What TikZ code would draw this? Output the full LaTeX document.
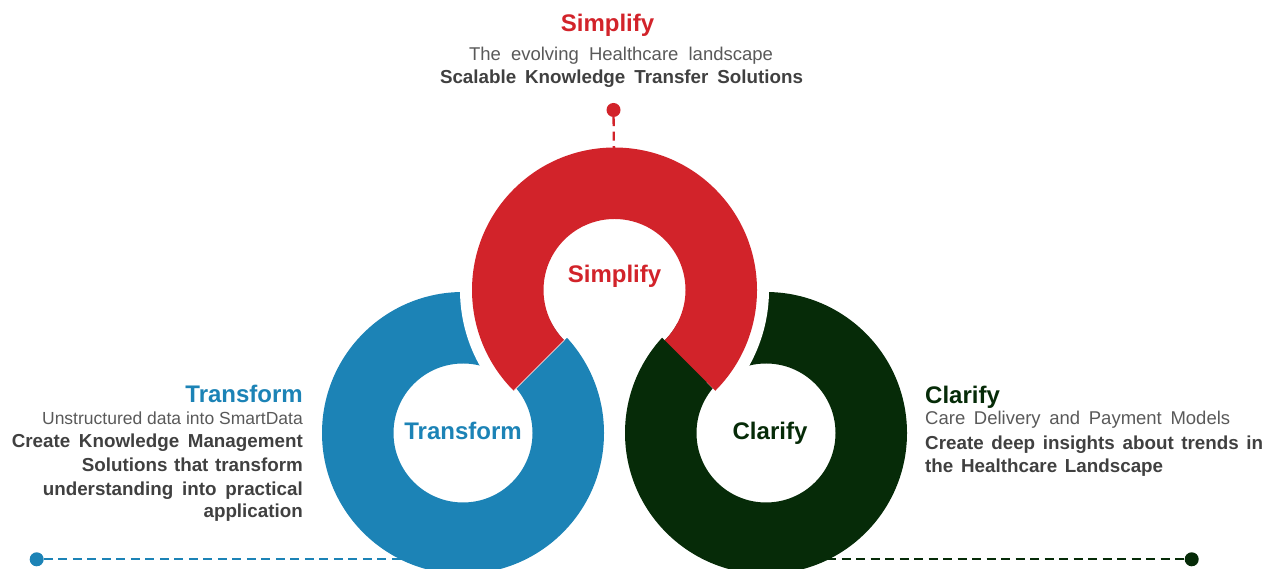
\documentclass[tikz,border=0pt]{standalone}
\usepackage{fontspec}
\setmainfont{Liberation Sans}
\definecolor{cred}{HTML}{D2232A}
\definecolor{cblue}{HTML}{1C83B6}
\definecolor{cgreen}{HTML}{062B08}
\definecolor{cgray}{HTML}{595959}
\definecolor{cdark}{HTML}{404040}
\newcommand{\fitline}[2]{\makebox[#1][s]{#2}}
\tikzset{
  dotnode/.style={circle, inner sep=0pt, minimum size=14pt},
  dashline/.style={line width=2.3pt, dash pattern=on 9pt off 5.5pt},
  head/.style={inner sep=0pt, font=\fontsize{24}{28}\selectfont\bfseries},
  body/.style={inner sep=0pt, text=cgray, font=\fontsize{18.5}{22}\selectfont},
  sbody/.style={inner sep=0pt, text=cgray, font=\fontsize{17.5}{21}\selectfont},
  bbody/.style={inner sep=0pt, text=cdark, font=\fontsize{18.8}{22}\selectfont\bfseries}
}
\begin{document}
\begin{tikzpicture}[x=1pt,y=1pt]
\useasboundingbox (0,0) rectangle (1279,569);
\clip (0,0) rectangle (1279,569);
% ring centres
\coordinate (rc) at (614.5,279);
\coordinate (bc) at (463,136);
\coordinate (gc) at (766,136);
\coordinate (rtop) at (614,410);
\coordinate (bend) at (440,9.7);
\coordinate (gend) at (740,9.7);
% dots and dashed connectors (behind rings)
\node[dotnode, fill=cred] (rdot) at (613.5,459) {};
\node[dotnode, fill=cblue] (bdot) at (36.7,9.7) {};
\node[dotnode, fill=cgreen] (gdot) at (1191.7,9.7) {};
\draw[dashline, cblue] (bdot) -- (bend);
\draw[dashline, cgreen] (gend) -- (gdot);
% blue and green rings
\fill[cblue, even odd rule] (bc) circle (141) (bc) circle (69.5);
\fill[cgreen, even odd rule] (gc) circle (141) (gc) circle (69.5);
% white margin around red ring
\draw[white, line width=24pt] ([shift={(-45:142.5)}]rc) arc[start angle=-45, end angle=225, radius=142.5];
% clear red hole
\fill[white] (rc) -- ([shift={(-45:71)}]rc) arc[start angle=-45, end angle=225, radius=71] -- cycle;
\draw[dashline, cred] (rdot) -- (rtop);
% red ring
\fill[cred] ([shift={(-45:142.5)}]rc) arc[start angle=-45, end angle=225, radius=142.5]
  -- ([shift={(225:71)}]rc) arc[start angle=225, end angle=-45, radius=71] -- cycle;
\draw[white, opacity=0.7, line width=1pt] ([shift={(225:71)}]rc) -- ([shift={(225:142.5)}]rc);
% ring labels
\node[head, text=cred, anchor=base] (rlab) at (614.5,286) {Simplify};
\node[head, text=cblue, anchor=base] (blab) at (463,129) {Transform};
\node[head, text=cgreen, anchor=base] (glab) at (770,129) {Clarify};
% top text
\node[head, text=cred, anchor=base] (stitle) at (607.5,537) {Simplify};
\node[body, anchor=base] (s1) at (621,508) {\fitline{304pt}{The evolving Healthcare landscape}};
\node[bbody, anchor=base] (s2) at (621.5,485.7) {\fitline{363pt}{Scalable Knowledge Transfer Solutions}};
% left text
\node[head, text=cblue, anchor=base east] (ttitle) at (303,166) {Transform};
\node[sbody, anchor=base east] (t1) at (303,144) {Unstructured data into SmartData};
\node[bbody, anchor=base east] (t2) at (303,121) {\fitline{291pt}{Create Knowledge Management}};
\node[bbody, anchor=base east] (t3) at (303,97) {\fitline{221pt}{Solutions that transform}};
\node[bbody, anchor=base east] (t4) at (303,73.5) {\fitline{260pt}{understanding into practical}};
\node[bbody, anchor=base east] (t5) at (303,51) {application};
% right text
\node[head, text=cgreen, anchor=base west] (ctitle) at (925,165.7) {Clarify};
\node[body, anchor=base west] (c1) at (925,144) {\fitline{305pt}{Care Delivery and Payment Models}};
\node[bbody, anchor=base west] (c2) at (925,119.5) {\fitline{338pt}{Create deep insights about trends in}};
\node[bbody, anchor=base west] (c3) at (925,96) {\fitline{238pt}{the Healthcare Landscape}};
\end{tikzpicture}
\end{document}
